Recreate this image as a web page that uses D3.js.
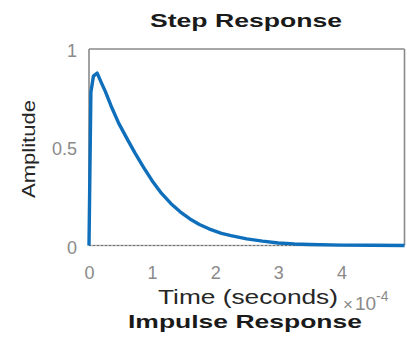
<!DOCTYPE html>
<html><head><meta charset="utf-8">
<script src="https://cdn.jsdelivr.net/npm/d3@7"></script>
<style>html,body{margin:0;padding:0;background:#fff;overflow:hidden}</style>
</head><body>
<svg id="c" width="407" height="337"></svg>
<script>
// time in units of 1e-4 seconds
const timeValues = [0,0.03,0.07,0.13,0.2,0.26,0.35,0.47,0.6,0.73,0.86,1.0,1.15,1.3,1.45,1.6,1.75,1.9,2.1,2.25,2.5,2.75,3.0,3.25,3.5,4.0,4.5,5.0];
const amplitudeValues = [0,0.78,0.862,0.877,0.825,0.783,0.71,0.623,0.545,0.47,0.4,0.33,0.265,0.213,0.17,0.135,0.107,0.085,0.062,0.05,0.034,0.022,0.013,0.008,0.005,0.002,0.001,0];
const xTicks = [0,1,2,3,4];
const yTicks = [0,0.5,1];
const titleText = "Step Response";
const xLabel = "Time (seconds)";
const yLabel = "Amplitude";
const nextTitle = "Impulse Response";

const svg = d3.select("#c");
const L = 89, R = 404.5, T = 49, B = 245.5;
const x = d3.scaleLinear().domain([0,5]).range([L,R]);
const y = d3.scaleLinear().domain([0,1]).range([B,T]);
const font = "'Liberation Sans', Arial, sans-serif";
const gray = "#8a8a8a";

// box
svg.append("line").attr("x1",L).attr("x2",R).attr("y1",T).attr("y2",T).attr("stroke",gray).attr("stroke-width",1.6);
svg.append("line").attr("x1",R).attr("x2",R).attr("y1",T).attr("y2",B).attr("stroke",gray).attr("stroke-width",1.6);
svg.append("line").attr("x1",L).attr("x2",L).attr("y1",T).attr("y2",B).attr("stroke",gray).attr("stroke-width",1.6);
svg.append("line").attr("x1",L).attr("x2",R).attr("y1",B).attr("y2",B).attr("stroke","#b8b8b8").attr("stroke-width",1.4);
svg.append("line").attr("x1",L).attr("x2",R).attr("y1",y(0)).attr("y2",y(0)).attr("stroke","#6e6e6e").attr("stroke-width",1.2).attr("stroke-dasharray","2,2");

// tick labels
const xAxis = d3.axisBottom(x).tickValues(xTicks).tickSize(0).tickFormat(d3.format("d"));
const gx = svg.append("g").attr("transform",`translate(0,${B})`).call(xAxis);
gx.select(".domain").remove();
gx.selectAll("text").attr("font-family",font).attr("font-size",18).attr("fill",gray).attr("dy",0).attr("y",33);

const yAxis = d3.axisLeft(y).tickValues(yTicks).tickSize(0).tickFormat(d => d===0.5 ? "0.5" : d3.format("d")(d));
const gy = svg.append("g").attr("transform",`translate(${L-12},0)`).call(yAxis);
gy.select(".domain").remove();
gy.selectAll("text").attr("font-family",font).attr("font-size",18).attr("fill",gray).attr("x",0).attr("dy","0.42em");

// curve
const line = d3.line().x((d,i)=>x(timeValues[i])).y(d=>y(d));
svg.append("path").datum(amplitudeValues).attr("d",line).attr("fill","none")
  .attr("stroke","#0f6fbb").attr("stroke-width",3.4).attr("stroke-linejoin","round");

// texts
svg.append("text").attr("x",246).attr("y",27).attr("text-anchor","middle")
  .attr("font-family",font).attr("font-weight","bold").attr("font-size",19).attr("fill","#1a1a1a")
  .attr("textLength",192).attr("lengthAdjust","spacingAndGlyphs").text(titleText);
svg.append("text").attr("x",248).attr("y",304).attr("text-anchor","middle")
  .attr("font-family",font).attr("font-size",20).attr("fill","#262626")
  .attr("textLength",180).attr("lengthAdjust","spacingAndGlyphs").text(xLabel);
svg.append("text").attr("x",245).attr("y",328).attr("text-anchor","middle")
  .attr("font-family",font).attr("font-weight","bold").attr("font-size",19).attr("fill","#1a1a1a")
  .attr("textLength",234).attr("lengthAdjust","spacingAndGlyphs").text(nextTitle);
svg.append("text").attr("transform","translate(35,149) rotate(-90)").attr("text-anchor","middle")
  .attr("font-family",font).attr("font-size",19).attr("fill","#262626")
  .attr("textLength",98).attr("lengthAdjust","spacingAndGlyphs").text(yLabel);

// exponent
const ex = svg.append("text").attr("x",343).attr("y",310).attr("font-family",font).attr("fill",gray);
ex.append("tspan").attr("font-size",17).text("×");
ex.append("tspan").attr("font-size",19).attr("dx",2).text("10");
ex.append("tspan").attr("font-size",14).attr("dy",-9).text("-4");
</script>
</body></html>
